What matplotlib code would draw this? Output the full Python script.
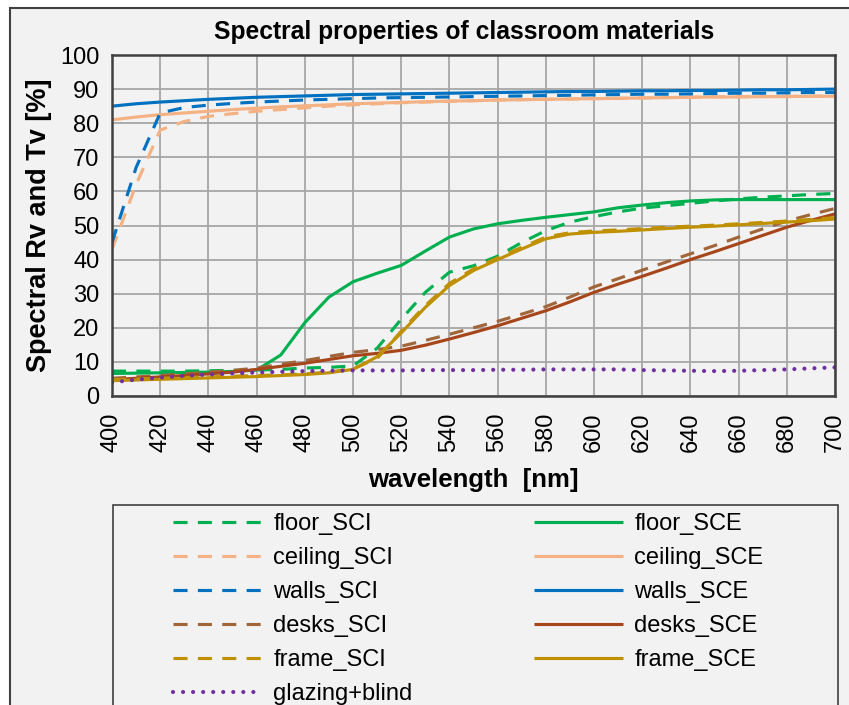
import numpy as np
import matplotlib
matplotlib.use("Agg")
import matplotlib.pyplot as plt
from matplotlib.patches import Rectangle

plt.rcParams['font.family'] = ['Liberation Sans', 'DejaVu Sans']

# =========================================
# Data
# =========================================
wavelength = [400, 410, 420, 430, 440, 450, 460, 470, 480, 490, 500,
              510, 520, 530, 540, 550, 560, 570, 580, 590, 600,
              610, 620, 630, 640, 650, 660, 670, 680, 690, 700]

floor_SCI = [7.3, 7.3, 7.3, 7.3, 7.4, 7.5, 7.6, 7.8, 8.2, 8.4, 8.8,
             14.0, 22.5, 30.4, 36.3, 38.2, 41.0, 45.0, 48.5, 51.0, 52.6,
             54.0, 55.1, 55.8, 56.5, 57.2, 57.8, 58.3, 58.7, 59.1, 59.4]
floor_SCE = [6.6, 6.7, 6.8, 6.9, 7.0, 7.2, 7.6, 12.0, 21.5, 29.0, 33.5,
             36.0, 38.3, 42.5, 46.6, 49.0, 50.5, 51.5, 52.4, 53.2, 54.0,
             55.2, 56.0, 56.7, 57.2, 57.5, 57.6, 57.6, 57.6, 57.6, 57.6]
ceiling_SCI = [43.0, 62.0, 78.0, 80.5, 82.0, 82.8, 83.5, 84.0, 84.5, 85.0, 85.4,
               85.7, 86.0, 86.2, 86.4, 86.6, 86.8, 86.9, 87.0, 87.1, 87.2,
               87.3, 87.4, 87.5, 87.6, 87.7, 87.8, 87.8, 87.9, 87.9, 88.0]
ceiling_SCE = [81.0, 81.8, 82.5, 83.0, 83.5, 84.0, 84.4, 84.8, 85.1, 85.4, 85.7,
               85.9, 86.1, 86.3, 86.5, 86.6, 86.8, 86.9, 87.0, 87.1, 87.2,
               87.3, 87.4, 87.5, 87.6, 87.7, 87.7, 87.8, 87.8, 87.9, 87.9]
walls_SCI = [45.0, 67.0, 83.0, 84.6, 85.3, 85.8, 86.2, 86.5, 86.8, 87.0, 87.2,
             87.4, 87.5, 87.6, 87.7, 87.8, 87.9, 88.0, 88.1, 88.2, 88.3,
             88.4, 88.5, 88.5, 88.6, 88.7, 88.8, 88.8, 88.9, 89.0, 89.0]
walls_SCE = [85.0, 85.7, 86.2, 86.6, 87.0, 87.3, 87.6, 87.8, 88.0, 88.2, 88.4,
             88.5, 88.6, 88.7, 88.8, 88.9, 89.0, 89.1, 89.2, 89.3, 89.3,
             89.4, 89.5, 89.5, 89.6, 89.6, 89.7, 89.8, 89.8, 89.9, 90.0]
desks_SCI = [5.2, 5.6, 6.0, 6.5, 7.0, 7.5, 8.2, 9.3, 10.4, 11.6, 12.8,
             13.6, 14.6, 16.3, 18.1, 20.0, 21.9, 24.0, 26.2, 29.0, 32.0,
             34.4, 36.9, 39.3, 41.7, 44.1, 46.6, 49.0, 51.3, 53.2, 55.0]
desks_SCE = [4.8, 5.2, 5.6, 6.0, 6.5, 7.0, 7.8, 8.7, 9.6, 10.7, 11.8,
             12.5, 13.4, 14.9, 16.7, 18.6, 20.6, 22.8, 25.0, 27.6, 30.4,
             32.8, 35.1, 37.5, 40.0, 42.3, 44.7, 47.1, 49.5, 51.5, 53.4]
frame_SCI = [4.8, 5.0, 5.2, 5.4, 5.6, 5.8, 6.0, 6.2, 6.5, 7.0, 8.0,
             11.0, 19.0, 26.5, 33.0, 37.3, 40.5, 43.6, 46.6, 47.9, 48.4,
             48.7, 49.1, 49.5, 49.8, 50.1, 50.5, 50.9, 51.3, 51.8, 52.3]
frame_SCE = [4.5, 4.7, 4.9, 5.1, 5.3, 5.5, 5.7, 6.0, 6.3, 6.8, 7.8,
             11.5, 18.5, 26.0, 32.4, 36.8, 40.0, 43.1, 46.1, 47.5, 48.0,
             48.3, 48.7, 49.1, 49.5, 49.8, 50.2, 50.6, 51.0, 51.4, 51.9]
glazing_blind = [4.0, 4.8, 5.4, 5.9, 6.3, 6.6, 6.9, 7.1, 7.3, 7.4, 7.5,
                 7.5, 7.5, 7.6, 7.6, 7.6, 7.7, 7.7, 7.8, 7.8, 7.8,
                 7.8, 7.6, 7.5, 7.4, 7.3, 7.4, 7.6, 7.8, 8.1, 8.4]

x_ticks = list(range(400, 701, 20))
y_ticks = list(range(0, 101, 10))

# =========================================
# Styles
# =========================================
DASH = (0, (4.5, 3.3))
DOT = (0, (0.01, 2.4))
LW = 2.25
BG = '#f2f2f2'

series = [
    ("floor_SCI", floor_SCI, '#00b050', DASH),
    ("floor_SCE", floor_SCE, '#00b050', '-'),
    ("ceiling_SCI", ceiling_SCI, '#f4b183', DASH),
    ("ceiling_SCE", ceiling_SCE, '#f4b183', '-'),
    ("walls_SCI", walls_SCI, '#0070c0', DASH),
    ("walls_SCE", walls_SCE, '#0070c0', '-'),
    ("desks_SCI", desks_SCI, '#a0663a', DASH),
    ("desks_SCE", desks_SCE, '#a6461a', '-'),
    ("frame_SCI", frame_SCI, '#bf9000', DASH),
    ("frame_SCE", frame_SCE, '#bf9000', '-'),
    ("glazing+blind", glazing_blind, '#7030a0', DOT),
]

W, H = 849, 705
fig = plt.figure(figsize=(W / 100, H / 100), dpi=100, facecolor='white')

# outer chart frame and legend box (drawn behind the axes)
fig.patches.append(Rectangle((10 / W, -0.2), 1.2, 1 - 8 / H + 0.2,
                             transform=fig.transFigure, facecolor=BG,
                             edgecolor='#404040', lw=1.5, zorder=-2))
fig.patches.append(Rectangle((113 / W, -0.2), (838 - 113) / W, 1 - 505 / H + 0.2,
                             transform=fig.transFigure, facecolor=BG,
                             edgecolor='#404040', lw=1.2, zorder=-1))

ax = fig.add_axes([112 / W, 1 - 396 / H, (835 - 112) / W, (396 - 55) / H])
ax.set_zorder(1)
ax.set_facecolor(BG)

lines = {}
for name, vals, color, ls in series:
    is_dot = ls is DOT
    ln, = ax.plot(wavelength, vals, color=color, lw=3.0 if is_dot else LW,
                  linestyle=ls, dash_capstyle='round' if is_dot else 'butt',
                  solid_capstyle='butt', label=name)
    lines[name] = ln

ax.set_xlim(400, 700)
ax.set_ylim(0, 100)
ax.set_xticks(x_ticks)
ax.set_yticks(y_ticks)
ax.tick_params(axis='both', length=0, labelsize=17, colors='#000000')
ax.tick_params(axis='x', rotation=90, pad=12)
ax.tick_params(axis='y', pad=9)
ax.grid(True, color='#a6a6a6', lw=1.3)
ax.set_axisbelow(True)
for sp in ax.spines.values():
    sp.set_color('#404040')
    sp.set_linewidth(1.8)

ax.set_xlabel("wavelength  [nm]", fontsize=18.5, fontweight='bold', labelpad=11)
ax.set_ylabel("Spectral Rv and Tv [%]", fontsize=19.5, fontweight='bold', labelpad=6)
fig.text(464 / W, 1 - 32 / H, "Spectral properties of classroom materials",
         fontsize=17.7, fontweight='bold', ha='center', va='center')

# =========================================
# Legend (two columns)
# =========================================
left_names = ["floor_SCI", "ceiling_SCI", "walls_SCI", "desks_SCI",
              "frame_SCI", "glazing+blind"]
right_names = ["floor_SCE", "ceiling_SCE", "walls_SCE", "desks_SCE", "frame_SCE"]

leg_kw = dict(loc='upper left', frameon=False, fontsize=17, borderpad=0,
              borderaxespad=0, handlelength=3.75, handletextpad=0.5,
              labelspacing=0.51)
fig.legend([lines[n] for n in left_names], left_names,
           bbox_to_anchor=(173 / W, 1 - 513 / H), **leg_kw)
fig.legend([lines[n] for n in right_names], right_names,
           bbox_to_anchor=(534 / W, 1 - 513 / H), **leg_kw)

fig.savefig("out.png", dpi=100, facecolor=fig.get_facecolor())
